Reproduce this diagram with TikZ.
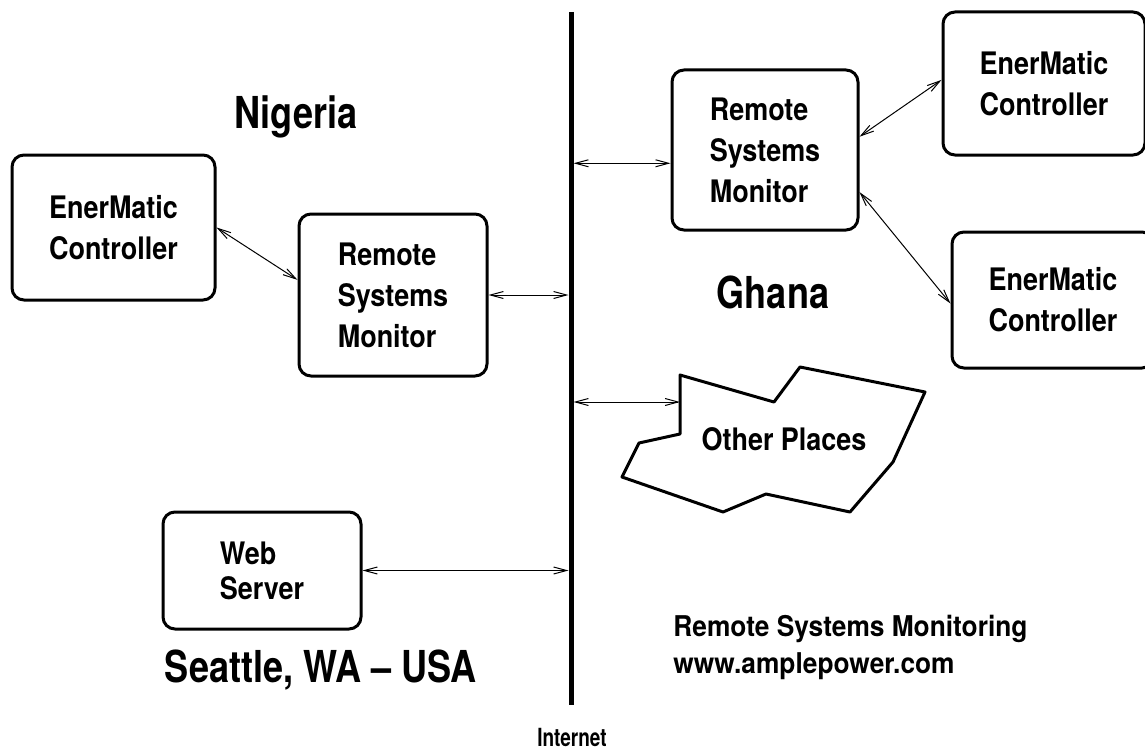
\documentclass[tikz,border=0pt]{standalone}
\usepackage{fontspec}
\setmainfont{TeX Gyre Heros}
\newfontfamily\unitfont[FakeStretch=0.87]{TeX Gyre Heros}
\newfontfamily\placefont[FakeStretch=0.82]{TeX Gyre Heros}
\newfontfamily\netfont[FakeStretch=0.76]{TeX Gyre Heros}
\newfontfamily\notefont[FakeStretch=0.92]{TeX Gyre Heros}
\usetikzlibrary{arrows.meta}

\begin{document}
\begin{tikzpicture}[x=0.5pt,y=-0.5pt,
                    unit/.style={draw,line width=1.5pt,rounded corners=6pt,inner sep=0pt,align=left,
                                 font=\unitfont\bfseries\fontsize{15.5}{20.5}\selectfont},
                    place/.style={inner sep=0pt,anchor=base,font=\placefont\bfseries\fontsize{22}{26}\selectfont},
                    note/.style={inner sep=0pt,anchor=base west,font=\notefont\bfseries\fontsize{14.3}{18}\selectfont},
                    link/.style={{Straight Barb[length=6.5pt,width=3.5pt]}-{Straight Barb[length=6.5pt,width=3.5pt]},line width=0.5pt}
]
\useasboundingbox (0,0) rectangle (1145,749);

% the internet
\coordinate (netTop) at (571,12);
\coordinate (netBot) at (571,705);
\coordinate (netL) at (568.5,0);
\coordinate (netR) at (573.5,0);
\draw [line width=2.5pt] (netTop) -- (netBot);
\node [place,font=\netfont\bfseries\fontsize{12.5}{14}\selectfont] (net) at (572,746) {Internet};
%
% Nigeria
\node [place] (nig) at (296,128) {Nigeria};
\node [unit,minimum width=101.5pt,minimum height=72.5pt] (emNig) at (113.5,227.5) {EnerMatic\\Controller};
\node [unit,minimum width=94pt,minimum height=81pt] (rsmNig) at (393,295) {Remote\\Systems\\Monitor};
%
% Ghana
\node [place] (gha) at (773,308) {Ghana};
\node [unit,minimum width=93pt,minimum height=80pt] (rsmGha) at (765,150) {Remote\\Systems\\Monitor};
\node [unit,minimum width=101pt,minimum height=71.5pt] (emGhaTop) at (1044,83.5) {EnerMatic\\Controller};
\node [unit,minimum width=101pt,minimum height=68pt] (emGhaLow) at (1053,300) {EnerMatic\\Controller};
%
% other places
\draw [line width=1.5pt,line join=round] (680,375) -- (774,402) -- (800,367) -- (925,392) -- (893,462)
      -- (850,512) -- (766,494) -- (723,512) -- (622,477) -- (639,443) -- (680,434) -- cycle;
\coordinate (otherIn) at (680,402);
\node [unit,draw=none,anchor=base] (other) at (784,450) {Other Places};
%
% Seattle
\node [unit,minimum width=99pt,minimum height=58.5pt,font=\unitfont\bfseries\fontsize{15.5}{17.5}\selectfont] (webSea) at (262,570.5) {Web\\Server};
\node [place] (sea) at (321,682) {Seattle, WA – USA};
%
\node [note] (noteTitle) at (673,636) {Remote Systems Monitoring};
\node [note] (noteUrl) at (673,673) {www.amplepower.com};
%
\draw [link] (emNig.east) -- (rsmNig.171);
\draw [link] (rsmNig.east) -- (rsmNig.east -| netL);
\draw [link] (rsmGha.188.6 -| netR) -- (rsmGha.188.6);
\draw [link] (rsmGha.8) -- (emGhaTop.178);
\draw [link] (rsmGha.-24.4) -- (emGhaLow.182.8);
\draw [link] (otherIn -| netR) -- (otherIn);
\draw [link] (webSea.east) -- (webSea.east -| netL);
\end{tikzpicture}
\end{document}
